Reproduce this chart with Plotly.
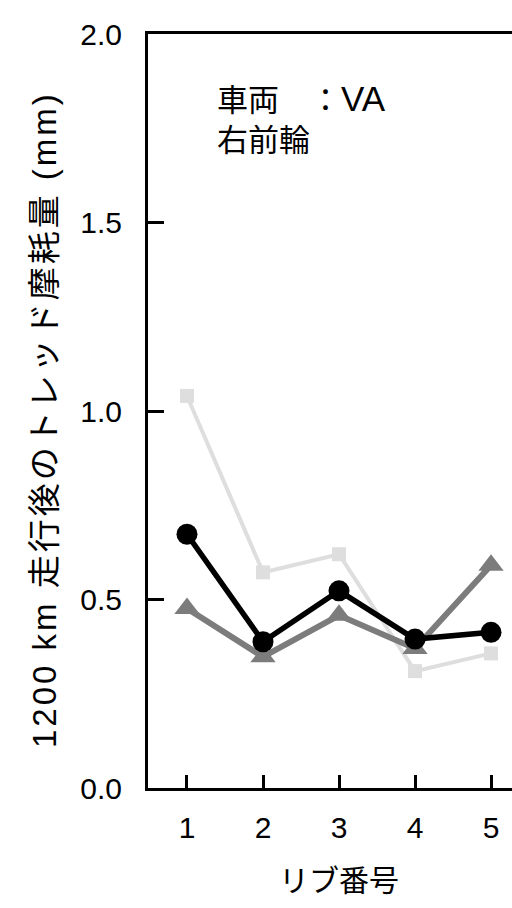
import plotly.graph_objects as go

rib = [1, 2, 3, 4, 5]
wear_black = [0.673, 0.388, 0.523, 0.395, 0.413]
wear_gray = [0.476, 0.348, 0.458, 0.370, 0.591]
wear_light = [1.04, 0.572, 0.62, 0.31, 0.357]
y_ticks = [0.0, 0.5, 1.0, 1.5, 2.0]
y_ticktext = ["0.0", "0.5", "1.0", "1.5", "2.0"]

FONT = "Liberation Sans, Arial, Noto Sans CJK JP"

fig = go.Figure()
fig.add_trace(go.Scatter(
    x=rib, y=wear_light, mode="lines+markers",
    line=dict(color="#dedede", width=4),
    marker=dict(symbol="square", size=14, color="#dedede"),
    showlegend=False))
fig.add_trace(go.Scatter(
    x=rib, y=wear_gray, mode="lines+markers",
    line=dict(color="#7c7c7c", width=6),
    marker=dict(symbol="triangle-up", size=22, color="#7c7c7c"),
    showlegend=False))
fig.add_trace(go.Scatter(
    x=rib, y=wear_black, mode="lines+markers",
    line=dict(color="#000000", width=5.5),
    marker=dict(symbol="circle", size=21, color="#000000"),
    showlegend=False))

fig.update_layout(
    width=512, height=908,
    margin=dict(l=148, r=0, t=34, b=120),
    plot_bgcolor="white", paper_bgcolor="white",
    font=dict(family=FONT, color="black", size=30),
    xaxis=dict(range=[0.487, 5.276], tickvals=rib, ticktext=[str(v) for v in rib],
               ticks="inside", ticklen=13, tickwidth=2.5, tickcolor="black",
               showline=True, linewidth=3, linecolor="black", mirror=True,
               showgrid=False, zeroline=False, ticklabelstandoff=11,
               tickfont=dict(size=30, family=FONT)),
    yaxis=dict(range=[0, 2.0], tickvals=y_ticks, ticktext=y_ticktext,
               ticks="inside", ticklen=16, tickwidth=2.5, tickcolor="black",
               showline=True, linewidth=3, linecolor="black", mirror=False,
               showgrid=False, zeroline=False, ticklabelstandoff=17,
               tickfont=dict(size=30, family=FONT)),
    annotations=[
        dict(text="<span style=\"letter-spacing:3px\">1200 km 走行後のトレッド摩耗量 (mm)</span>",
             textangle=-90,
             xref="paper", yref="paper", x=0, y=0.488, xshift=-104,
             xanchor="center", yanchor="middle", showarrow=False,
             font=dict(size=33, family=FONT)),
        dict(text="リブ番号", xref="x", yref="paper", x=3, y=0, yshift=-92,
             xanchor="center", yanchor="middle", showarrow=False,
             font=dict(size=30, family=FONT)),
        dict(text="車両　：<span style=\"font-size:35px\">VA</span>",
             xref="paper", yref="paper", x=0.184, y=1, yshift=-64,
             xanchor="left", yanchor="middle", showarrow=False,
             font=dict(size=31, family=FONT)),
        dict(text="右前輪", xref="paper", yref="paper", x=0.184, y=1, yshift=-106,
             xanchor="left", yanchor="middle", showarrow=False,
             font=dict(size=31, family=FONT)),
    ],
)

fig.write_html("out.html", config={"displayModeBar": False},
               post_script="document.body.style.margin='0';")
